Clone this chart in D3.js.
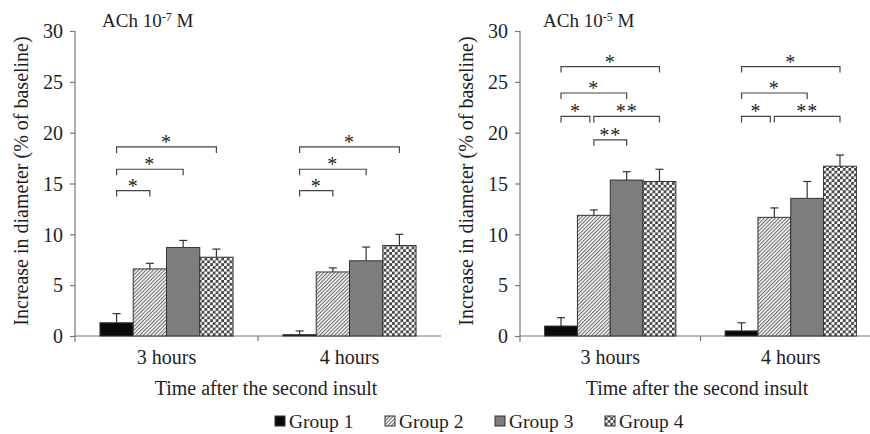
<!DOCTYPE html>
<html><head><meta charset="utf-8">
<script src="https://cdn.jsdelivr.net/npm/d3@7/dist/d3.min.js"></script>
<style>body{margin:0;background:#fff}svg{display:block}</style>
</head><body>
<svg id="c" width="870" height="434"></svg>
<script>
const categories = ["3 hours", "4 hours"];
const groups = ["Group 1", "Group 2", "Group 3", "Group 4"];
const yTicks = [0, 5, 10, 15, 20, 25, 30];

// Panel A: ACh 10^-7 M  (mean, per category per group)
const meanA = [[1.3, 6.6, 8.7, 7.75], [0.13, 6.3, 7.4, 8.9]];
const errA  = [[0.9, 0.55, 0.7, 0.8], [0.37, 0.4, 1.35, 1.1]];
// Panel B: ACh 10^-5 M
const meanB = [[0.98, 11.87, 15.34, 15.2], [0.5, 11.67, 13.54, 16.7]];
const errB  = [[0.82, 0.53, 0.82, 1.2], [0.8, 0.93, 1.66, 1.1]];

// significance brackets: [category index, group from, group to, level (% units), label]
const bracketsA = [
  [0, 0, 1, 14.3, "*"], [0, 0, 2, 16.4, "*"], [0, 0, 3, 18.6, "*"],
  [1, 0, 1, 14.3, "*"], [1, 0, 2, 16.4, "*"], [1, 0, 3, 18.6, "*"]
];
const bracketsB = [
  [0, 0, 3, 26.5, "*"], [0, 0, 2, 23.9, "*"], [0, 0, 1, 21.6, "*"], [0, 1, 3, 21.6, "**"], [0, 1, 2, 19.3, "**"],
  [1, 0, 3, 26.5, "*"], [1, 0, 2, 23.9, "*"], [1, 0, 1, 21.6, "*"], [1, 1, 3, 21.6, "**"]
];

const titleA = ["ACh 10", "-7", " M"];
const titleB = ["ACh 10", "-5", " M"];
const yLabel = "Increase in diameter (% of baseline)";
const xLabel = "Time after the second insult";

const FONT = "Liberation Serif";
const INK = "#1e1e1e";
const svg = d3.select("#c");
const defs = svg.append("defs");
// Group 2: diagonal hatch
const p2 = defs.append("pattern").attr("id","hatch").attr("patternUnits","userSpaceOnUse")
  .attr("width",2.6).attr("height",2.6).attr("patternTransform","rotate(45)");
p2.append("rect").attr("width",2.6).attr("height",2.6).attr("fill","#f4f4f4");
p2.append("line").attr("x1",0.5).attr("y1",0).attr("x2",0.5).attr("y2",2.6).attr("stroke","#6a6a6a").attr("stroke-width",1);
// Group 4: dotted mesh
const p4 = defs.append("pattern").attr("id","mesh").attr("patternUnits","userSpaceOnUse")
  .attr("width",5.6).attr("height",5.6);
p4.append("rect").attr("width",5.6).attr("height",5.6).attr("fill","#3c3c3c");
p4.append("circle").attr("cx",1.4).attr("cy",1.4).attr("r",1.7).attr("fill","#fff");
p4.append("circle").attr("cx",4.2).attr("cy",4.2).attr("r",1.7).attr("fill","#fff");

const fills = ["#0a0a0a", "url(#hatch)", "#7d7d7d", "url(#mesh)"];
const y = d3.scaleLinear().domain([0, 30]).range([336, 31]);

function txt(sel, size) {
  return sel.attr("font-family", FONT).attr("font-size", size).attr("fill", INK);
}

function panel(opt) {
  const g = svg.append("g");
  const x0 = d3.scaleBand().domain(categories).range(opt.range);
  const x1 = d3.scaleBand().domain(groups).range([0, x0.bandwidth()]).paddingOuter(0.75);
  const cx = (c, gi) => x0(categories[c]) + x1(groups[gi]) + x1.bandwidth() / 2;

  // y axis
  const ya = g.append("g").attr("transform", `translate(${opt.range[0]},0)`)
    .call(d3.axisLeft(y).tickValues(yTicks).tickSize(5).tickPadding(7).tickSizeOuter(0));
  ya.select(".domain").remove();
  ya.selectAll(".tick line").attr("stroke", "#777").attr("stroke-width", 1.2);
  txt(ya.selectAll(".tick text"), 20).attr("dy", "0.34em");
  g.append("line").attr("x1", opt.range[0]).attr("x2", opt.range[0]).attr("y1", y(30)).attr("y2", y(0) + 6)
    .attr("stroke", "#777").attr("stroke-width", 1.2);

  // x axis
  g.append("line").attr("x1", opt.range[0]).attr("x2", opt.range[1]).attr("y1", y(0)).attr("y2", y(0))
    .attr("stroke", "#777").attr("stroke-width", 1.2);
  g.selectAll(".xt").data(categories.slice(1)).join("line")
    .attr("x1", d => x0(d)).attr("x2", d => x0(d)).attr("y1", y(0)).attr("y2", y(0) + 5)
    .attr("stroke", "#777").attr("stroke-width", 1.2);
  txt(g.selectAll(".xl").data(categories).join("text"), 20)
    .attr("x", d => x0(d) + x0.bandwidth() / 2).attr("y", 364).attr("text-anchor", "middle").text(d => d);
  txt(g.append("text"), 20).attr("x", opt.xLabelX).attr("y", 395).attr("text-anchor", "middle").text(xLabel);
  txt(g.append("text"), 20).attr("transform", `translate(${opt.yLabelX},181) rotate(-90)`)
    .attr("text-anchor", "middle").text(yLabel);

  // title
  const t = txt(g.append("text"), 19).attr("x", opt.titleX).attr("y", 26.5);
  t.append("tspan").text(opt.title[0]);
  t.append("tspan").attr("dy", -6).attr("font-size", 12).text(opt.title[1]);
  t.append("tspan").attr("dy", 6).text(opt.title[2]);

  // bars
  opt.mean.forEach((row, c) => {
    row.forEach((v, gi) => {
      const bx = x0(categories[c]) + x1(groups[gi]);
      const e = opt.err[c][gi];
      const mx = bx + x1.bandwidth() / 2;
      g.append("line").attr("x1", mx).attr("x2", mx).attr("y1", y(v)).attr("y2", y(v + e))
        .attr("stroke", "#333").attr("stroke-width", 1.2);
      g.append("line").attr("x1", mx - 4).attr("x2", mx + 4).attr("y1", y(v + e)).attr("y2", y(v + e))
        .attr("stroke", "#333").attr("stroke-width", 1.2);
      g.append("rect").attr("x", bx).attr("y", y(v)).attr("width", x1.bandwidth()).attr("height", y(0) - y(v))
        .attr("fill", fills[gi]).attr("stroke", "#333").attr("stroke-width", 1);
    });
  });

  // brackets
  opt.brackets.forEach(b => {
    const [c, ga, gb, lvl, lab] = b;
    let xa = cx(c, ga), xb = cx(c, gb);
    const adj = opt.brackets.some(o => o !== b && o[0] === c && o[3] === lvl && o[1] === gb);
    if (adj) xb -= 4;
    const yy = y(lvl);
    g.append("path").attr("d", `M${xa},${yy + 6}V${yy}H${xb}V${yy + 6}`)
      .attr("fill", "none").attr("stroke", "#444").attr("stroke-width", 1.2);
    txt(g.append("text"), 20).attr("x", (xa + xb) / 2).attr("y", yy + 2).attr("text-anchor", "middle")
      .attr("letter-spacing", 1).text(lab);
  });
}

panel({ range: [75, 441], mean: meanA, err: errA, brackets: bracketsA, title: titleA, titleX: 102, xLabelX: 266, yLabelX: 28 });
panel({ range: [520, 881], mean: meanB, err: errB, brackets: bracketsB, title: titleB, titleX: 543, xLabelX: 697, yLabelX: 473 });

// legend
const lg = svg.append("g");
groups.forEach((gname, i) => {
  const lx = 275 + i * 110;
  lg.append("rect").attr("x", lx).attr("y", 416).attr("width", 10).attr("height", 10)
    .attr("fill", fills[i]).attr("stroke", "#333").attr("stroke-width", 1);
  txt(lg.append("text"), 19.5).attr("x", lx + 14).attr("y", 428).text(gname);
});
</script>
</body></html>
